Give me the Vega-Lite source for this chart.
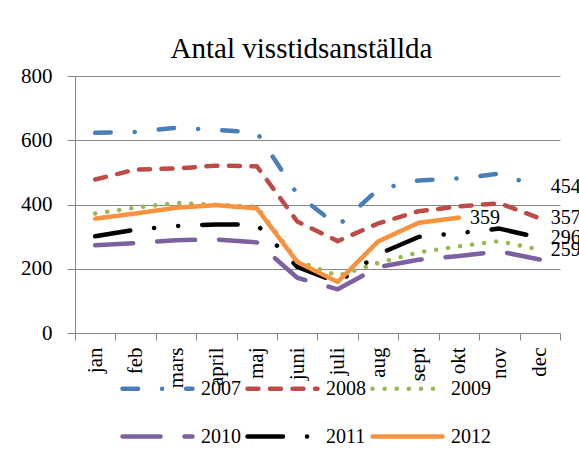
{
  "$schema": "https://vega.github.io/schema/vega-lite/v6.json",
  "width": 485,
  "height": 257,
  "autosize": {"type": "none"},
  "padding": {"left": 75, "top": 76, "right": 19, "bottom": 125},
  "background": "white",
  "title": {"text": "Antal visstidsanställda", "font": "Liberation Serif", "fontSize": 29, "fontWeight": "normal", "color": "black", "anchor": "middle", "frame": "group", "dx": -16, "dy": 38, "offset": 16, "baseline": "alphabetic"},
  "data": {"values": [
    {"year": "2007", "month": "jan", "value": 623}, {"year": "2007", "month": "feb", "value": 626}, {"year": "2007", "month": "mars", "value": 639}, {"year": "2007", "month": "april", "value": 632}, {"year": "2007", "month": "maj", "value": 624}, {"year": "2007", "month": "juni", "value": 432}, {"year": "2007", "month": "juli", "value": 333}, {"year": "2007", "month": "aug", "value": 447}, {"year": "2007", "month": "sept", "value": 475}, {"year": "2007", "month": "okt", "value": 481}, {"year": "2007", "month": "nov", "value": 496}, {"year": "2007", "month": "dec", "value": 454},
    {"year": "2008", "month": "jan", "value": 478}, {"year": "2008", "month": "feb", "value": 509}, {"year": "2008", "month": "mars", "value": 512}, {"year": "2008", "month": "april", "value": 521}, {"year": "2008", "month": "maj", "value": 519}, {"year": "2008", "month": "juni", "value": 347}, {"year": "2008", "month": "juli", "value": 286}, {"year": "2008", "month": "aug", "value": 341}, {"year": "2008", "month": "sept", "value": 379}, {"year": "2008", "month": "okt", "value": 394}, {"year": "2008", "month": "nov", "value": 404}, {"year": "2008", "month": "dec", "value": 357},
    {"year": "2009", "month": "jan", "value": 372}, {"year": "2009", "month": "feb", "value": 390}, {"year": "2009", "month": "mars", "value": 405}, {"year": "2009", "month": "april", "value": 399}, {"year": "2009", "month": "maj", "value": 393}, {"year": "2009", "month": "juni", "value": 224}, {"year": "2009", "month": "juli", "value": 178}, {"year": "2009", "month": "aug", "value": 218}, {"year": "2009", "month": "sept", "value": 251}, {"year": "2009", "month": "okt", "value": 270}, {"year": "2009", "month": "nov", "value": 286}, {"year": "2009", "month": "dec", "value": 259},
    {"year": "2010", "month": "jan", "value": 273}, {"year": "2010", "month": "feb", "value": 280}, {"year": "2010", "month": "mars", "value": 289}, {"year": "2010", "month": "april", "value": 291}, {"year": "2010", "month": "maj", "value": 282}, {"year": "2010", "month": "juni", "value": 172}, {"year": "2010", "month": "juli", "value": 136}, {"year": "2010", "month": "aug", "value": 205}, {"year": "2010", "month": "sept", "value": 228}, {"year": "2010", "month": "okt", "value": 240}, {"year": "2010", "month": "nov", "value": 254}, {"year": "2010", "month": "dec", "value": 229},
    {"year": "2011", "month": "jan", "value": 301}, {"year": "2011", "month": "feb", "value": 322}, {"year": "2011", "month": "mars", "value": 333}, {"year": "2011", "month": "april", "value": 338}, {"year": "2011", "month": "maj", "value": 337}, {"year": "2011", "month": "juni", "value": 206}, {"year": "2011", "month": "juli", "value": 157}, {"year": "2011", "month": "aug", "value": 245}, {"year": "2011", "month": "sept", "value": 299}, {"year": "2011", "month": "okt", "value": 311}, {"year": "2011", "month": "nov", "value": 325}, {"year": "2011", "month": "dec", "value": 296},
    {"year": "2012", "month": "jan", "value": 356}, {"year": "2012", "month": "feb", "value": 372}, {"year": "2012", "month": "mars", "value": 390}, {"year": "2012", "month": "april", "value": 398}, {"year": "2012", "month": "maj", "value": 388}, {"year": "2012", "month": "juni", "value": 221}, {"year": "2012", "month": "juli", "value": 159}, {"year": "2012", "month": "aug", "value": 285}, {"year": "2012", "month": "sept", "value": 343}, {"year": "2012", "month": "okt", "value": 359}
  ]},
  "encoding": {
    "x": {
      "field": "month", "type": "nominal",
      "sort": ["jan", "feb", "mars", "april", "maj", "juni", "juli", "aug", "sept", "okt", "nov", "dec"],
      "bandPosition": 0.5,
      "scale": {"type": "band", "paddingInner": 0, "paddingOuter": 0},
      "axis": {"title": null, "labelAngle": -90, "labelFont": "Liberation Serif", "labelFontSize": 21, "labelColor": "black", "tickBand": "extent", "tickSize": 7, "tickColor": "#868686", "domainColor": "#868686", "labelPadding": 7, "grid": false}
    },
    "y": {
      "field": "value", "type": "quantitative",
      "scale": {"domain": [0, 800], "nice": false},
      "axis": {"title": null, "values": [0, 200, 400, 600, 800], "grid": true, "gridColor": "#868686", "gridWidth": 1.2, "tickSize": 8, "tickColor": "#868686", "domainColor": "#868686", "labelFont": "Liberation Serif", "labelFontSize": 21, "labelPadding": 15, "labelColor": "black"}
    }
  },
  "layer": [
    {
      "mark": {"type": "line", "strokeWidth": 4.5, "strokeCap": "round", "strokeJoin": "round"},
      "encoding": {
        "color": {
          "field": "year", "type": "nominal",
          "scale": {"domain": ["2007", "2008", "2009", "2010", "2011", "2012"], "range": ["#4A7EBB", "#BE4B48", "#98B954", "#7D60A0", "#000000", "#F69240"]},
          "legend": {"orient": "none", "legendX": 45, "legendY": 275, "direction": "horizontal", "columns": 3, "title": null, "symbolType": "stroke", "symbolSize": 4900, "symbolStrokeWidth": 4.5, "labelFont": "Liberation Serif", "labelFontSize": 20, "labelColor": "black", "columnPadding": -3, "rowPadding": -26, "labelOffset": 6, "padding": 0, "encode": {"symbols": {"update": {"strokeCap": {"value": "round"}}}}}
        },
        "strokeDash": {
          "field": "year", "type": "nominal",
          "scale": {"domain": ["2007", "2008", "2009", "2010", "2011", "2012"], "range": [[15.5, 24, 0.1, 24], [11, 11.5], [0.1, 12], [38, 24], [35.5, 24, 0.1, 24, 0.1, 24], [1, 0]]}
        }
      }
    },
    {
      "transform": [{"filter": "(datum.year == '2012' && datum.month == 'okt') || (datum.month == 'dec' && datum.year != '2010')"}],
      "mark": {"type": "text", "align": "left", "baseline": "middle", "dx": 11, "font": "Liberation Serif", "fontSize": 20, "color": "black"},
      "encoding": {"text": {"field": "value", "type": "quantitative", "format": "d"}}
    }
  ],
  "config": {"view": {"stroke": null}, "font": "Liberation Serif", "axis": {"labelFont": "Liberation Serif"}, "legend": {"labelFont": "Liberation Serif"}}
}
